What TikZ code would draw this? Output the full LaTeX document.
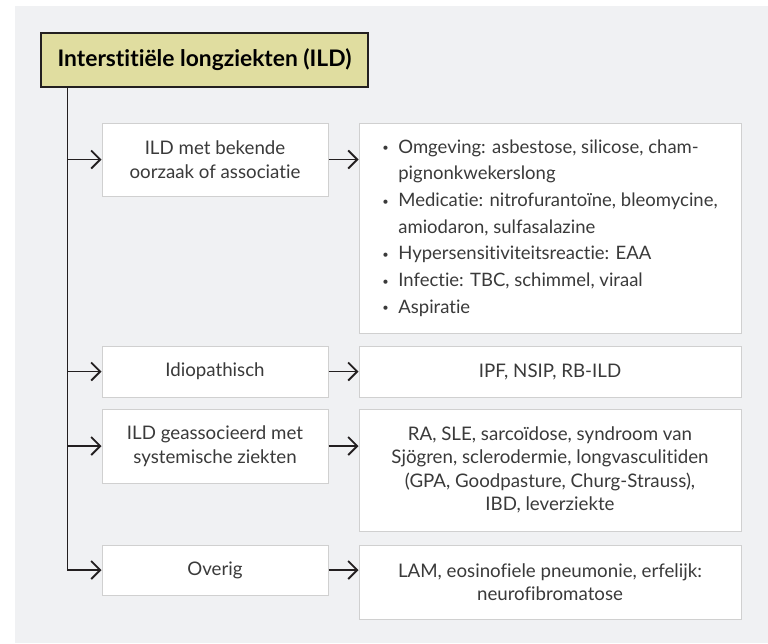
\documentclass[tikz,border=0pt]{standalone}
\usepackage{fontspec}
\setmainfont{Lato}[Ligatures={NoCommon}]
\usetikzlibrary{arrows.meta,positioning,calc}
\definecolor{ildpanel}{RGB}{240,241,243}
\definecolor{ildkhaki}{RGB}{224,221,160}
\definecolor{ildgrey}{RGB}{208,208,208}
\definecolor{ildtext}{RGB}{58,58,58}
\definecolor{ildline}{RGB}{35,31,32}
\newcommand{\ildbullet}{\makebox[16pt][l]{\raisebox{0.15ex}{\scalebox{0.6}{\textbullet}}}}

\begin{document}
\begin{tikzpicture}[x=1pt,y=-1pt,>={Straight Barb[length=9pt,width=18pt]},
  every node/.style={font=\fontsize{18.7}{23.5}\selectfont,text=ildtext},
  titlebox/.style={draw=ildline,fill=ildkhaki,line width=1.2pt,minimum width=327pt,minimum height=54pt,inner sep=0pt,text=black,font=\fontsize{22.8}{26}\selectfont\bfseries},
  catbox/.style={draw=ildgrey,fill=white,line width=1pt,minimum width=226pt,inner sep=0pt,align=center},
  infobox/.style={catbox,minimum width=382pt},
  link/.style={->,draw=ildline,line width=1.8pt}]
\useasboundingbox (0,0) rectangle (768,643);
\fill[white] (0,0) rectangle (768,643);
\fill[ildpanel] (15,6) rectangle (768,643);

% title and categories
\node[titlebox] (title) at (204.5,60) {Interstitiële longziekten (ILD)};
\node[catbox,minimum height=73pt] (known) at (215,159.5) {ILD met bekende\\oorzaak of associatie};
\node[catbox,minimum height=51pt] (idio) at (215,371.5) {Idiopathisch};
\node[catbox,minimum height=74pt] (syst) at (215,446) {ILD geassocieerd met\\systemische ziekten};
\node[catbox,minimum height=50pt] (other) at (215,570) {Overig};

% details
\node[infobox,minimum height=210pt,align=left,font=\fontsize{18.5}{26.7}\selectfont] (knownlist) at (550,228)
  {\ildbullet Omgeving: asbestose, silicose, cham-\\
   \hspace*{16pt}pignonkwekerslong\\
   \ildbullet Medicatie: nitrofurantoïne, bleomycine,\\
   \hspace*{16pt}amiodaron, sulfasalazine\\
   \ildbullet Hypersensitiviteitsreactie: EAA\\
   \ildbullet Infectie: TBC, schimmel, viraal\\
   \ildbullet Aspiratie};
\node[infobox,minimum height=51pt] (idiolist) at (550,371.5) {IPF, NSIP, RB-ILD};
\node[infobox,minimum height=122pt] (systlist) at (550,470)
  {RA, SLE, sarcoïdose, syndroom van\\Sjögren, sclerodermie, longvasculitiden\\(GPA, Goodpasture, Churg-Strauss),\\IBD, leverziekte};
\node[infobox,minimum height=74pt] (otherlist) at (550,582) {LAM, eosinofiele pneumonie, erfelijk:\\neurofibromatose};

% connectors
\coordinate (trunk) at ($(title.south west)+(27,0)$);
\draw[link] (trunk) |- (other.west);
\foreach \n in {known,idio,syst}
  \draw[link] (trunk |- \n.west) -- (\n.west);
\foreach \a/\b in {known/knownlist,idio/idiolist,syst/systlist,other/otherlist}
  \draw[link] (\a.east) -- (\a.east -| \b.west);
\end{tikzpicture}
\end{document}
